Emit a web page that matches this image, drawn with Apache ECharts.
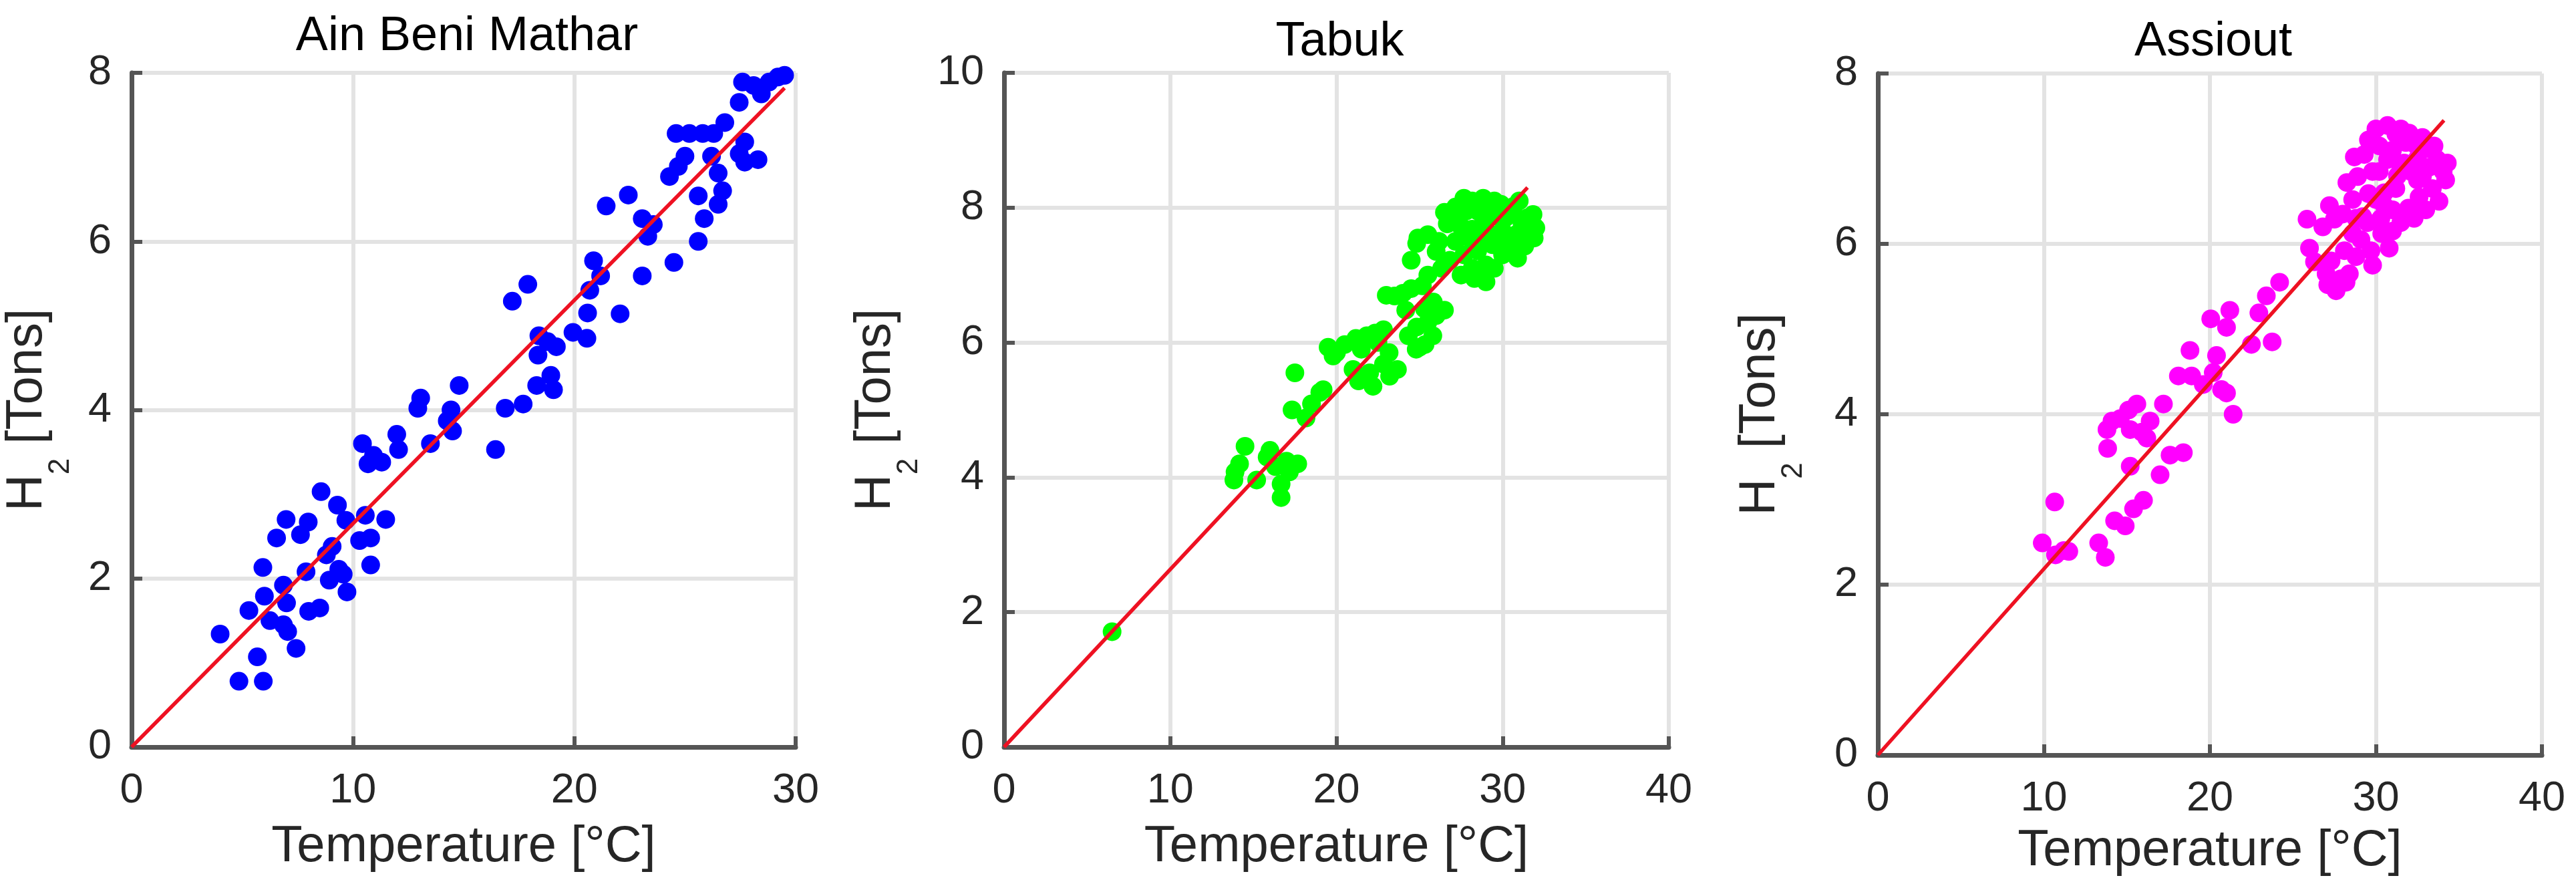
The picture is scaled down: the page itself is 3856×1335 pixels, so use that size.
<!DOCTYPE html>
<html>
<head>
<meta charset="utf-8">
<script src="https://cdn.jsdelivr.net/npm/echarts@6/dist/echarts.min.js"></script>
<style>
  html, body { margin: 0; padding: 0; background: #fff; }
  #main { width: 3856px; height: 1335px; }
</style>
</head>
<body>
<div id="main"></div>
<script>
// site names (panel titles)
var siteNames = ['Ain Beni Mathar', 'Tabuk', 'Assiout'];

// Ain Beni Mathar: temperature [°C] and H2 [Tons]
var ainTemp = [4.0, 4.85, 5.95, 5.68, 5.3, 5.93, 6.0, 6.25, 6.55, 6.98, 6.86, 7.0, 6.86, 7.05, 7.43, 7.63, 7.98, 7.88, 8.0, 8.5,
  8.56, 8.8, 8.93, 9.06, 9.3, 9.36, 9.56, 9.73, 9.68, 10.3, 10.43, 10.68, 10.93, 11.3, 10.8, 10.8, 10.56, 11.48, 11.98, 12.06,
  12.93, 13.06, 13.5, 14.26, 14.43, 14.5, 14.8, 16.44, 16.88, 17.2, 17.69, 17.9, 18.3, 18.4, 18.36, 18.8, 18.94, 19.06, 19.19, 19.94,
  20.57, 20.6, 20.7, 20.87, 21.19, 21.44, 22.07, 22.44, 23.07, 23.07, 23.32, 23.57, 24.5, 24.3, 24.7, 25.0, 24.6, 25.2, 25.8, 26.3,
  26.8, 25.6, 25.87, 25.6, 26.2, 26.5, 26.5, 26.7, 27.45, 27.7, 28.3, 27.7, 27.45, 27.6, 28.1, 28.45, 28.8, 29.2, 29.5];
var ainH2 = [1.34, 0.78, 0.78, 1.07, 1.62, 2.13, 1.79, 1.5, 2.48, 2.7, 1.92, 1.71, 1.45, 1.37, 1.17, 2.52, 2.67, 2.08, 1.61, 1.65,
  3.03, 2.28, 1.98, 2.38, 2.87, 2.11, 2.05, 1.84, 2.69, 2.45, 3.6, 3.36, 3.46, 3.38, 2.48, 2.16, 2.75, 2.7, 3.71, 3.53,
  4.02, 4.14, 3.6, 3.87, 4.0, 3.75, 4.29, 3.53, 4.02, 5.29, 4.07, 5.49, 4.29, 4.88, 4.65, 4.81, 4.41, 4.24, 4.75, 4.92,
  4.85, 5.15, 5.42, 5.77, 5.59, 6.42, 5.14, 6.55, 5.59, 6.27, 6.06, 6.2, 5.75, 6.77, 6.89, 7.01, 7.28, 7.28, 7.28, 7.28,
  7.41, 6.0, 6.27, 6.54, 7.01, 6.81, 6.44, 6.6, 7.04, 7.18, 6.97, 6.94, 7.65, 7.89, 7.85, 7.75, 7.89, 7.95, 7.97];

// Tabuk
var tabukTemp = [6.5, 13.83, 14.17, 14.5, 13.9, 15.2, 15.83, 16.0, 16.33, 16.67, 16.67, 17.17, 17.67, 17.0, 17.5,
  17.33, 18.17, 18.5, 19.0, 19.5, 20.0, 20.5, 21.17, 21.83, 22.33, 22.83, 21.33, 22.0, 22.83, 23.67, 23.17,
  23.5, 24.0, 24.17, 24.33, 24.83, 25.33, 25.0, 24.5, 24.83, 25.17, 25.83, 26.5, 25.5,
  26.17, 26.67, 26.5, 27.17, 27.67, 28.17, 28.83, 29.5, 27.17, 27.67, 28.17, 28.5, 29.0, 29.5, 30.0,
  28.17, 28.83, 29.33, 30.17, 30.67, 31.17, 31.67, 31.33, 30.67, 30.17, 29.83, 31.83, 27.5, 26.83, 26.33,
  27.0, 27.8, 28.5, 29.2, 29.9, 30.5, 31.0, 28.0, 28.7, 29.4, 30.2, 30.9, 31.5, 31.9, 32.0, 29.0, 30.0, 30.8,
  27.5, 28.3, 29.0, 25.5, 26.0, 24.9, 23.0, 24.5, 25.5, 25.8, 26.0, 24.8, 25.3,
  19.8, 21.5, 22.5, 21.0, 22.2, 23.2, 19.2];
var tabukH2 = [1.71, 3.96, 4.2, 4.46, 4.08, 3.96, 4.3, 4.4, 4.16, 3.9, 3.7, 4.08, 4.2, 4.24, 5.55,
  5.0, 4.88, 5.09, 5.26, 5.93, 5.85, 5.97, 6.06, 6.1, 6.14, 6.19, 5.43, 5.55, 5.68, 5.6, 5.85,
  6.69, 6.73, 6.48, 6.1, 6.23, 5.97, 5.93, 7.22, 7.47, 6.84, 6.6, 6.48, 7.0,
  7.5, 7.76, 7.93, 8.01, 8.14, 8.1, 8.14, 8.1, 7.5, 7.3, 7.1, 7.36, 7.15, 7.1, 7.3,
  7.68, 7.76, 7.6, 7.85, 8.02, 7.76, 7.6, 7.43, 7.47, 7.6, 7.85, 7.9, 7.72, 7.22, 7.1,
  7.9, 7.95, 7.95, 8.0, 8.05, 7.9, 8.1, 7.55, 7.5, 7.45, 7.35, 7.25, 7.85, 7.55, 7.7, 7.85, 7.65, 7.6,
  7.0, 6.95, 6.9, 7.6, 7.35, 7.55, 6.7, 6.8, 6.3, 6.1, 6.4, 5.9, 6.5,
  5.8, 5.9, 6.0, 5.6, 5.35, 5.5, 5.3];

// Assiout
var assioutTemp = [9.9, 10.65, 10.7, 11.2, 11.5, 13.3, 13.7, 13.84, 14.26, 14.9, 15.4, 16.0, 15.2,
  13.8, 14.1, 14.6, 15.1, 15.6, 15.2, 15.9, 16.4, 16.2, 17.2, 17.0, 17.6, 18.4, 18.1, 18.9, 18.8, 19.6,
  20.05, 21.2, 21.0, 20.4, 20.2, 20.7, 21.0, 21.4, 22.5, 22.95, 23.4, 23.75, 24.2,
  25.85, 26.0, 26.3, 27.0, 27.1, 27.5, 27.9, 28.4, 28.1, 28.6, 28.6, 28.25, 28.7,
  29.1, 29.7, 30.35, 31.0, 29.2, 29.55, 29.55, 30.0, 30.7, 31.2, 31.8, 32.45, 33.1, 33.7, 34.05, 33.4,
  31.96, 32.6, 31.2, 30.2, 30.7, 31.5, 32.1, 32.8, 30.0, 30.5, 28.9,
  31.5, 32.0, 32.8, 33.5, 34.3, 34.2, 33.8, 33.0, 32.3, 31.5, 31.0, 30.5, 29.8, 29.3, 30.2, 31.0, 31.7, 32.5,
  33.2, 32.5, 31.3, 30.8, 29.8, 28.8, 27.6, 28.2, 27.3, 26.8, 27.2, 28.0, 28.8, 29.5, 30.3];
var assioutH2 = [2.49, 2.97, 2.35, 2.4, 2.39, 2.49, 2.32, 3.6, 2.75, 2.69, 2.89, 2.99, 3.39,
  3.82, 3.92, 3.95, 4.05, 4.12, 3.82, 3.79, 3.92, 3.72, 4.12, 3.29, 3.52, 3.55, 4.45, 4.45, 4.75, 4.35,
  5.12, 5.22, 5.02, 4.69, 4.49, 4.29, 4.25, 4.0, 4.82, 5.19, 5.39, 4.85, 5.55,
  6.29, 5.95, 5.79, 5.65, 5.52, 6.29, 5.59, 5.65, 5.92, 6.12, 6.52, 6.72, 7.02,
  6.05, 5.92, 6.12, 6.15, 6.32, 6.59, 7.22, 7.35, 7.39, 7.29, 7.19, 7.15, 7.12, 6.99, 6.85, 6.65,
  6.42, 6.55, 6.65, 6.85, 6.99, 6.92, 6.85, 6.79, 6.52, 6.45, 6.79,
  7.35, 7.3, 7.25, 7.15, 6.95, 6.75, 6.5, 6.4, 6.3, 6.25, 6.4, 6.6, 6.85, 7.05, 7.15, 7.1, 6.95, 7.0,
  6.9, 6.75, 6.8, 5.95, 5.75, 5.85, 5.45, 5.55, 5.8, 6.2, 6.45, 6.35, 6.3, 6.25, 6.3];

// red fit lines, start and end points
var ainFit = [[0, 0], [29.5, 7.82]];
var tabukFit = [[0, 0], [31.5, 8.3]];
var assioutFit = [[0, 0], [34.1, 7.45]];

// axis ranges
var xMaxes = [30, 40, 40];
var yMaxes = [8, 10, 8];

var dotColors = ['#0000ff', '#00ff00', '#ff00ff'];

var FONT = "'Liberation Sans', Arial, Helvetica, sans-serif";

function pairs(xs, ys) {
  var out = [];
  for (var i = 0; i < xs.length; i++) out.push([xs[i], ys[i]]);
  return out;
}

// panel boxes in pixels
var boxes = [
  { left: 197, top: 109, width: 994, height: 1009, titleTop: 14, yGap: 84, xGap: 112 },
  { left: 1503, top: 109, width: 995, height: 1009, titleTop: 22, yGap: 120, xGap: 112 },
  { left: 2811, top: 110, width: 994, height: 1020, titleTop: 22, yGap: 104, xGap: 106 }
];

var scatterData = [pairs(ainTemp, ainH2), pairs(tabukTemp, tabukH2), pairs(assioutTemp, assioutH2)];
var fitData = [ainFit, tabukFit, assioutFit];

var axisCol = '#555555';
var gridCol = '#e3e3e3';

var option = {
  backgroundColor: '#ffffff',
  animation: false,
  title: [],
  grid: [],
  xAxis: [],
  yAxis: [],
  series: []
};

boxes.forEach(function (b, i) {
  option.title.push({
    text: siteNames[i],
    left: b.left + b.width / 2,
    top: b.titleTop,
    textAlign: 'center',
    textStyle: { fontFamily: FONT, fontSize: 72, fontWeight: 'normal', color: '#000' }
  });
  option.grid.push({ left: b.left, top: b.top, width: b.width, height: b.height, containLabel: false });
  option.xAxis.push({
    gridIndex: i,
    type: 'value',
    min: 0,
    max: xMaxes[i],
    interval: 10,
    name: 'Temperature [°C]',
    nameLocation: 'middle',
    nameGap: b.xGap,
    nameTextStyle: { fontFamily: FONT, fontSize: 76, color: '#262626' },
    axisLine: { show: true, onZero: false, lineStyle: { color: axisCol, width: 7 } },
    axisTick: { show: true, inside: true, length: 16, lineStyle: { color: axisCol, width: 6 } },
    axisLabel: { margin: 34, fontFamily: FONT, fontSize: 63, color: '#262626' },
    splitLine: { show: true, lineStyle: { color: gridCol, width: 6 } }
  });
  option.yAxis.push({
    gridIndex: i,
    type: 'value',
    min: 0,
    max: yMaxes[i],
    interval: 2,
    name: '{h|H}{s|2}{h| [Tons]}',
    nameLocation: 'middle',
    nameRotate: 90,
    nameGap: b.yGap,
    nameTextStyle: {
      fontFamily: FONT,
      color: '#262626',
      rich: {
        h: { fontFamily: FONT, fontSize: 76, lineHeight: 110, verticalAlign: 'top', color: '#262626' },
        s: { fontFamily: FONT, fontSize: 44, lineHeight: 44, verticalAlign: 'bottom', color: '#262626' }
      }
    },
    axisLine: { show: true, onZero: false, lineStyle: { color: axisCol, width: 7 } },
    axisTick: { show: true, inside: true, length: 16, lineStyle: { color: axisCol, width: 6 } },
    axisLabel: { margin: 30, fontFamily: FONT, fontSize: 63, color: '#262626' },
    splitLine: { show: true, lineStyle: { color: gridCol, width: 6 } }
  });
  option.series.push({
    type: 'scatter',
    xAxisIndex: i,
    yAxisIndex: i,
    symbol: 'circle',
    symbolSize: 28,
    itemStyle: { color: dotColors[i], opacity: 1 },
    data: scatterData[i],
    z: 2
  });
  option.series.push({
    type: 'line',
    xAxisIndex: i,
    yAxisIndex: i,
    showSymbol: false,
    symbol: 'none',
    lineStyle: { color: '#ee1122', width: 5.5 },
    data: fitData[i],
    z: 3
  });
});

var chart = echarts.init(document.getElementById('main'), null, { renderer: 'canvas' });
chart.setOption(option);
</script>
</body>
</html>
